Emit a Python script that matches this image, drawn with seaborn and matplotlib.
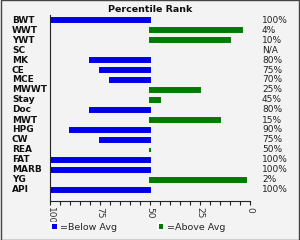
import numpy as np
import pandas as pd
import matplotlib
matplotlib.use("Agg")
import matplotlib.pyplot as plt
import seaborn as sns
from matplotlib.patches import Rectangle
from matplotlib.transforms import blended_transform_factory

categories = ["BWT", "WWT", "YWT", "SC", "MK", "CE", "MCE", "MWWT", "Stay", "Doc",
              "MWT", "HPG", "CW", "REA", "FAT", "MARB", "YG", "API"]
percentile = [100, 4, 10, np.nan, 80, 75, 70, 25, 45, 80,
              15, 90, 75, 50, 100, 100, 2, 100]
rank_labels = ["100%", "4%", "10%", "N/A", "80%", "75%", "70%", "25%", "45%", "80%",
               "15%", "90%", "75%", "50%", "100%", "100%", "2%", "100%"]
axis_ticks = [100, 75, 50, 25, 0]

BLUE = "#0000e6"
GREEN = "#007a00"
BG = "#f3f3f3"

df = pd.DataFrame({"cat": categories, "pct": percentile})
# bars grow from the 50 line: right = above average, left = below average
df["offset"] = 50 - df["pct"]
df["group"] = np.where(df["pct"] > 50, "=Below Avg", "=Above Avg")

sns.set_style("white")
plt.rcParams["font.family"] = ["DejaVu Sans"]

fig, ax = plt.subplots(figsize=(3, 2.4), dpi=100)
fig.patch.set_facecolor(BG)
ax.set_facecolor(BG)
fig.subplots_adjust(left=50 / 300, right=250 / 300, top=1 - 15 / 240, bottom=1 - 201 / 240)

sns.barplot(data=df, y="cat", x="offset", hue="group", hue_order=["=Below Avg", "=Above Avg"],
            palette=[BLUE, GREEN], orient="h", dodge=False, width=0.45,
            linewidth=1.4, saturation=1, ax=ax)
for bar in ax.patches:
    bar.set_edgecolor(bar.get_facecolor())

ax.set_xlim(-50, 50)
ax.set_ylim(len(categories) - 1 + 1.1, -0.5)
ax.set_xticks([50 - t for t in axis_ticks])
ax.set_xticklabels([str(t) for t in axis_ticks], rotation=-90, fontsize=6.5, color="#333333")
ax.set_xticks(np.arange(-50, 51, 5), minor=True)
ax.tick_params(axis="x", which="both", direction="out", length=3, width=0.8,
               color="#222222", pad=1.5, bottom=True)
ax.set_yticks([])
ax.set_xlabel("")
ax.set_ylabel("")
for side in ["top", "right"]:
    ax.spines[side].set_visible(False)
for side in ["left", "bottom"]:
    ax.spines[side].set_color("#222222")
    ax.spines[side].set_linewidth(0.8)

tr = blended_transform_factory(fig.transFigure, ax.transData)
for i, (cat, lab) in enumerate(zip(categories, rank_labels)):
    ax.text(12 / 300, i, cat, transform=tr, ha="left", va="center",
            fontsize=6.5, fontweight="bold", color="#111111")
    ax.text(262 / 300, i, lab, transform=tr, ha="left", va="center",
            fontsize=6.5, color="#222222")

fig.text(0.5, 1 - 10 / 240, "Percentile Rank", ha="center", va="center",
         fontsize=6.8, fontweight="bold", color="#111111")

sns.move_legend(ax, "center", bbox_to_anchor=(138 / 300, 1 - 227 / 240),
                bbox_transform=fig.transFigure, ncol=2, frameon=False, title=None,
                fontsize=6.8, handlelength=0.7, handleheight=0.7, handletextpad=0.25,
                columnspacing=4.3)

fig.patches.append(Rectangle((0.002, 0.002), 0.996, 0.996, transform=fig.transFigure,
                             fill=False, edgecolor="#444444", linewidth=1))

fig.savefig("out.png", dpi=100, facecolor=BG)
